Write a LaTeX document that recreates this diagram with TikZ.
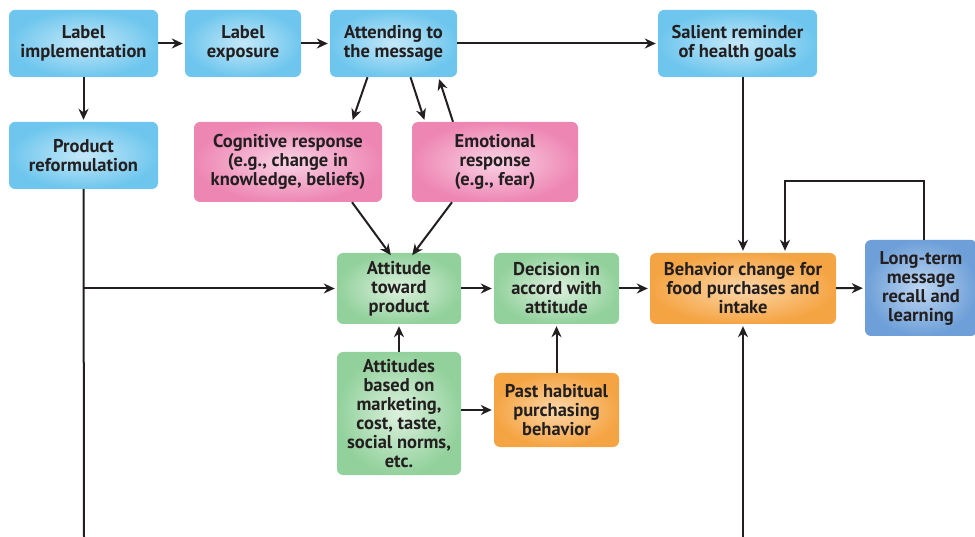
\documentclass[tikz,border=0pt]{standalone}
\usepackage{fontspec}
\setmainfont{PT Sans}
\usetikzlibrary{arrows.meta}
\definecolor{txt}{HTML}{231F20}
\definecolor{blueIn}{HTML}{C4E8F8}
\definecolor{blueOut}{HTML}{6EC6EE}
\definecolor{pinkIn}{HTML}{F9D3E4}
\definecolor{pinkOut}{HTML}{EE86B4}
\definecolor{greenIn}{HTML}{DDF1DE}
\definecolor{greenOut}{HTML}{92D19C}
\definecolor{orangeIn}{HTML}{FCD7AA}
\definecolor{orangeOut}{HTML}{F5A443}
\definecolor{dblueIn}{HTML}{BDD6F1}
\definecolor{dblueOut}{HTML}{6E9FD8}
\tikzset{
  box/.style={rounded corners=6pt, shading=radial, align=center, text=txt,
    font=\bfseries\fontsize{18.5}{19}\selectfont, inner sep=0pt},
  bluebox/.style={box, inner color=blueIn, outer color=blueOut},
  pinkbox/.style={box, inner color=pinkIn, outer color=pinkOut},
  greenbox/.style={box, inner color=greenIn, outer color=greenOut},
  orangebox/.style={box, inner color=orangeIn, outer color=orangeOut},
  dbluebox/.style={box, inner color=dblueIn, outer color=dblueOut},
  conn/.style={line width=2pt, draw=txt, shorten >=2pt,
    -{Stealth[length=11pt,width=10pt,inset=3.5pt]}},
  plain/.style={line width=2pt, draw=txt}
}
\begin{document}
\begin{tikzpicture}[x=1pt,y=-1pt]
\useasboundingbox (0,0) rectangle (975,537);
% top row
\node[bluebox, minimum width=149pt, minimum height=67pt] (li) at (83.5,43.5) {Label\\implementation};
\node[bluebox, minimum width=116pt, minimum height=67pt] (le) at (243,43.5) {Label\\exposure};
\node[bluebox, minimum width=127pt, minimum height=67pt] (am) at (393.5,43.5) {Attending to\\the message};
\node[bluebox, minimum width=159pt, minimum height=67pt] (sr) at (737.5,43.5) {Salient reminder\\of health goals};
% second row
\node[bluebox, minimum width=149pt, minimum height=67pt] (pr) at (83.5,155.5) {Product\\reformulation};
\node[pinkbox, minimum width=188pt, minimum height=80pt] (cr) at (288,162) {Cognitive response\\(e.g., change in\\knowledge, beliefs)};
\node[pinkbox, minimum width=166pt, minimum height=80pt] (er) at (495,162) {Emotional\\response\\(e.g., fear)};
% middle row
\node[greenbox, minimum width=124pt, minimum height=71pt] (at) at (399,288.5) {Attitude\\toward\\product};
\node[greenbox, minimum width=125pt, minimum height=71pt] (dc) at (556.5,288.5) {Decision in\\accord with\\attitude};
\node[orangebox, minimum width=186pt, minimum height=71pt] (bc) at (743,288.5) {Behavior change for\\food purchases and\\intake};
\node[dbluebox, minimum width=112pt, minimum height=96pt] (lt) at (921,288) {Long-term\\message\\recall and\\learning};
% lower row
\node[greenbox, minimum width=124pt, minimum height=123pt] (ab) at (399,413.5) {Attitudes\\based on\\marketing,\\cost, taste,\\social norms,\\etc.};
\node[orangebox, minimum width=125pt, minimum height=74pt] (ph) at (556.5,410) {Past habitual\\purchasing\\behavior};
% free ends
\coordinate (b1) at (84,537);
\coordinate (b2) at (743,537);
% connectors
\draw[conn] (li) -- (le);
\draw[conn] (le) -- (am);
\draw[conn] (am) -- (sr);
\draw[conn] (li) -- (pr);
\draw[conn] ([xshift=-26pt]am.south) -- ([xshift=64pt]cr.north);
\draw[conn] ([xshift=17pt]am.south) -- ([xshift=-70pt]er.north);
\draw[conn] ([xshift=-42pt]er.north) -- ([xshift=45pt]am.south);
\draw[conn] ([xshift=64pt]cr.south) -- ([xshift=-7pt,yshift=-4pt]at.north);
\draw[conn] ([xshift=-43pt]er.south) -- ([xshift=12pt,yshift=-4pt]at.north);
\draw[plain] (pr.south) -- (b1);
\draw[conn] (pr.south |- at.west) -- (at.west);
\draw[conn] (at) -- (dc);
\draw[conn] (dc) -- (bc);
\draw[conn] (bc) -- (lt);
\draw[conn] (sr.south -| bc.north) -- (bc.north);
\draw[conn] ([xshift=3pt]lt.north) -- ++(0,-59) -| ([xshift=42pt]bc.north);
\draw[conn] (b2) -- (bc.south);
\draw[conn] (ab) -- (at);
\draw[conn] (ab.east |- ph.west) -- (ph.west);
\draw[conn] (ph) -- (dc);
\end{tikzpicture}
\end{document}
